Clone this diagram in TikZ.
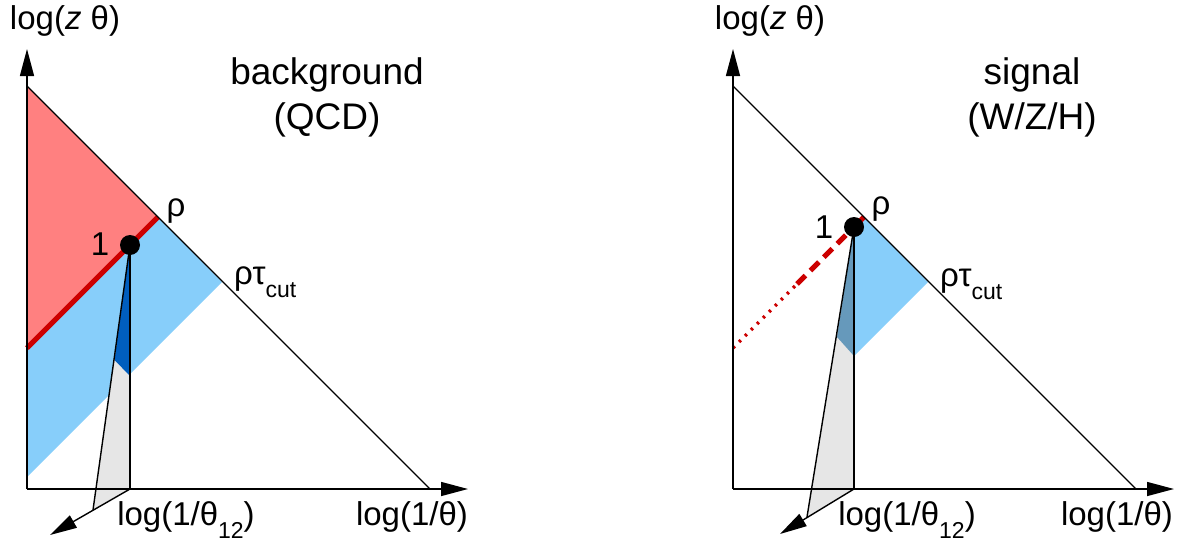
\documentclass[tikz,border=0pt]{standalone}
\usepackage{fontspec}
\setmainfont{Liberation Sans}
\usetikzlibrary{arrows.meta}
\definecolor{redfill}{RGB}{255,128,128}
\definecolor{redline}{RGB}{204,0,0}
\definecolor{lblue}{RGB}{135,206,250}
\definecolor{dblue}{RGB}{0,94,190}
\definecolor{sblue}{RGB}{102,153,187}
\definecolor{wgrey}{RGB}{230,230,230}
\newcommand\axfont{\fontsize{33}{38}\selectfont}
\newcommand\ttlfont{\fontsize{37}{43}\selectfont}
\newcommand\lowsub[1]{\raisebox{-0.75ex}{\fontsize{23}{23}\selectfont #1}}
\begin{document}
\begin{tikzpicture}[x=1pt,y=-1pt,
  axisarrow/.style={line width=1.4pt,-{Triangle[length=27pt,width=14pt]}},
  edgeline/.style={line width=1.4pt},
  lbl/.style={inner sep=0pt,font=\axfont},
  ttl/.style={inner sep=0pt,font=\ttlfont,align=center},
  dotnode/.style={circle,fill=black,inner sep=0pt,minimum size=20pt}]
\useasboundingbox (0,0) rectangle (1183,546);
% ---------------- left panel ----------------
\coordinate (O) at (27,489);
\coordinate (T) at (27,86);
\coordinate (H) at (430,489);
\coordinate (R) at (158,217);
\coordinate (C) at (222,282);
\coordinate (A) at (27,348);
\coordinate (B) at (27,477);
\coordinate (D) at (130,245);
\coordinate (W) at (130,489);
\coordinate (F) at (93,510);
\coordinate (E) at (130,376);
\coordinate (G) at (114.5,360);
\coordinate (Yt) at (27,49);
\coordinate (Xt) at (468,489);
\coordinate (Qt) at (50,535);
\fill[redfill] (T) -- (R) -- (A) -- cycle;
\fill[lblue] (A) -- (R) -- (C) -- (B) -- cycle;
\fill[wgrey] (D) -- (W) -- (F) -- cycle;
\fill[dblue] (D) -- (E) -- (G) -- cycle;
\draw[redline,line width=5pt] (A) -- (R);
\draw[edgeline] (T) -- (H);
\draw[axisarrow] (O) -- (Yt);
\draw[axisarrow] (O) -- (Xt);
\draw[axisarrow] (W) -- (Qt);
\draw[edgeline] (D) -- (W);
\draw[edgeline] (D) -- (F);
\node[dotnode] (dot) at (D) {};
\node[lbl] (one) at (100,244) {1};
\node[lbl] (rho) at (176,211) {ρ};
\node[lbl,anchor=base west] (rtc) at (234,284) {ρτ\lowsub{cut}};
\node[lbl] (ylab) at (65,21) {log(\textit{z} θ)};
\node[lbl] (xlab) at (412,517) {log(1/θ)};
\node[lbl] (tlab) at (186,520) {log(1/θ\lowsub{12})};
\node[ttl] (bg) at (327,75) {background};
\node[ttl] (qcd) at (327,120) {(QCD)};
% ---------------- right panel ----------------
\coordinate (O2) at (733,489);
\coordinate (T2) at (733,86);
\coordinate (H2) at (1136,489);
\coordinate (R2) at (864,217);
\coordinate (C2) at (928,282);
\coordinate (A2) at (733,348);
\coordinate (M2) at (797,284);
\coordinate (D2) at (854,227);
\coordinate (W2) at (854,489);
\coordinate (F2) at (807,517);
\coordinate (E2) at (854,356);
\coordinate (G2) at (837,337);
\coordinate (Yt2) at (733,49);
\coordinate (Xt2) at (1174,489);
\coordinate (Qt2) at (780,534);
\fill[wgrey] (D2) -- (W2) -- (F2) -- cycle;
\fill[lblue] (D2) -- (R2) -- (C2) -- (E2) -- cycle;
\fill[sblue] (D2) -- (E2) -- (G2) -- cycle;
\draw[redline,line width=3.5pt,dash pattern=on 2.5pt off 6pt] (A2) -- (M2);
\draw[redline,line width=5pt,dash pattern=on 12pt off 7pt] (M2) -- (D2);
\draw[redline,line width=5pt] (D2) -- (R2);
\draw[edgeline] (T2) -- (H2);
\draw[axisarrow] (O2) -- (Yt2);
\draw[axisarrow] (O2) -- (Xt2);
\draw[axisarrow] (W2) -- (Qt2);
\draw[edgeline] (D2) -- (W2);
\draw[edgeline] (D2) -- (F2);
\node[dotnode] (dot2) at (D2) {};
\node[lbl] (one2) at (824,227) {1};
\node[lbl] (rho2) at (881,209) {ρ};
\node[lbl,anchor=base west] (rtc2) at (940,286) {ρτ\lowsub{cut}};
\node[lbl] (ylab2) at (770,21) {log(\textit{z} θ)};
\node[lbl] (xlab2) at (1117,517) {log(1/θ)};
\node[lbl] (tlab2) at (907,520) {log(1/θ\lowsub{12})};
\node[ttl] (sg) at (1032,75) {signal};
\node[ttl] (wzh) at (1032,120) {(W/Z/H)};
\end{tikzpicture}
\end{document}
